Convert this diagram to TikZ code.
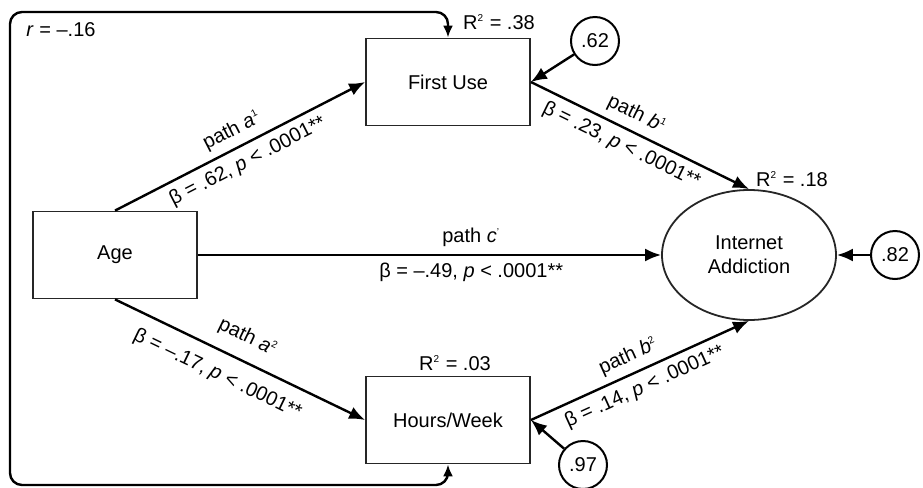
\documentclass[tikz,border=0pt]{standalone}
\usepackage{fontspec}
\setmainfont{Liberation Sans}
\usetikzlibrary{shapes.geometric,arrows.meta}

\begin{document}
\begin{tikzpicture}[x=0.5pt,y=-0.5pt]
\tikzset{varbox/.style={draw=black!85, line width=0.9pt, minimum width=82pt, minimum height=43.5pt, inner sep=0pt}}
\tikzset{outcome/.style={draw=black!85, line width=0.9pt, ellipse, minimum width=87pt, minimum height=65pt, inner sep=0pt, align=center}}
\tikzset{errnoeud/.style={draw, circle, line width=1pt, minimum size=24pt, inner sep=0pt}}
\tikzset{chemin/.style={line width=1.2pt, -{Latex[length=8pt,width=6.5pt]}}}
\useasboundingbox (0,0) rectangle (923,488);
% variables
\node[varbox] (Age) at (115,255) {Age};
\node[varbox] (FU) at (448,82) {First Use};
\node[varbox] (HW) at (448,420) {Hours/Week};
\node[outcome] (IA) at (749,255) {Internet\\Addiction};
% error terms
\node[errnoeud] (E1) at (595,41) {.62};
\node[errnoeud] (E2) at (583,465) {.97};
\node[errnoeud] (E3) at (895,255) {.82};
% R squared
\node (R1) at (499,22) {R\textsuperscript{\tiny 2} = .38};
\node (R2) at (455,363) {R\textsuperscript{\tiny 2} = .03};
\node (R3) at (792,179) {R\textsuperscript{\tiny 2} = .18};
\node (rlab) at (61,30) {\textit{r} = –.16};
% correlation frame
\coordinate (BL) at (10,485);
\coordinate (TL) at (10,12);
\draw[line width=1.2pt, rounded corners=6pt, {Latex[length=6pt,width=5pt]}-{Latex[length=6pt,width=5pt]}] (HW.south) |- (BL) -- (TL) -| (FU.north);
% paths
\draw[chemin] (Age.north) -- node[sloped, above, pos=0.5] {path \textit{a}\textsuperscript{\tiny 1}} node[sloped, below, pos=0.5] {β = .62, \textit{p} < .0001**} (FU.west);
\draw[chemin] (Age.south) -- node[sloped, above=3pt, pos=0.49] {path \textit{a}\textsuperscript{\tiny 2}} node[sloped, below=3pt, pos=0.45] {β = –.17, \textit{p} < .0001**} (HW.west);
\draw[chemin] (Age.east) -- node[above, pos=0.59] {path \textit{c}\textsuperscript{\tiny '}} node[below, pos=0.59] {β = –.49, \textit{p} < .0001**} (IA.west);
\draw[chemin] (FU.east) -- node[sloped, above, pos=0.45] {path \textit{b}\textsuperscript{\tiny 1}} node[sloped, below, pos=0.45] {β = .23, \textit{p} < .0001**} (IA.north);
\draw[chemin] (HW.east) -- node[sloped, above, pos=0.48] {path \textit{b}\textsuperscript{\tiny 2}} node[sloped, below, pos=0.49] {β = .14, \textit{p} < .0001**} (IA.south);
\draw[chemin] (E1) -- (FU.east);
\draw[chemin] (E2) -- (HW.east);
\draw[chemin] (E3) -- (IA.east);
\end{tikzpicture}
\end{document}
